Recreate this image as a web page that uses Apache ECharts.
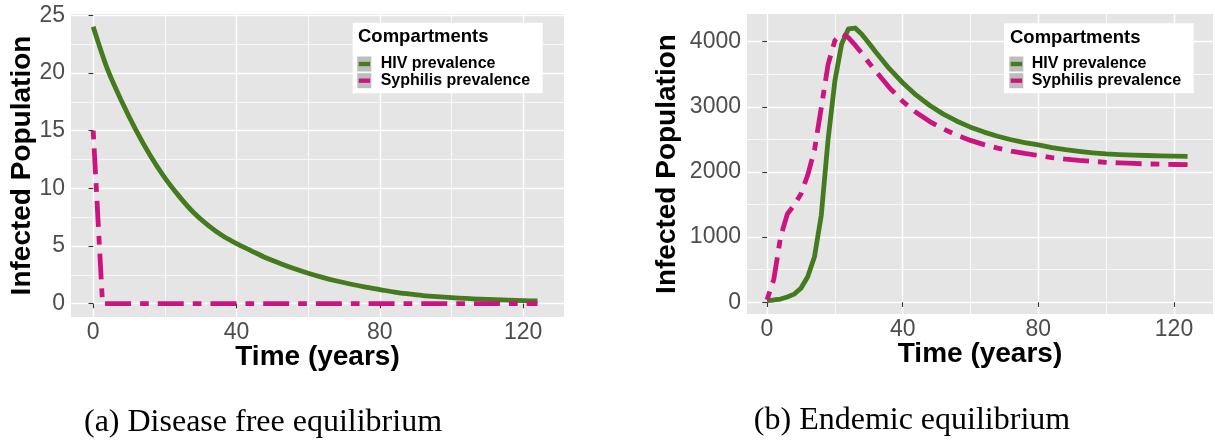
<!DOCTYPE html>
<html>
<head>
<meta charset="utf-8">
<script src="https://cdn.jsdelivr.net/npm/echarts@6.0.0/dist/echarts.min.js"></script>
<style>
html, body { margin: 0; padding: 0; background: #fff; }
#main { width: 1215px; height: 442px; }
</style>
</head>
<body>
<div id="main"></div>
<script>
// (a) disease free equilibrium
var freeYears = [0, 4, 8, 12, 16, 20, 24, 28, 32, 36, 40, 44, 48, 52, 56, 60,
  64, 68, 72, 76, 80, 84, 88, 92, 96, 100, 104, 108, 112, 116, 120, 124];
var hivFree = [24.0, 20.3, 17.5, 15.0, 12.8, 10.9, 9.3, 7.9, 6.8, 5.9, 5.2, 4.6, 4.0, 3.5, 3.04, 2.64,
  2.28, 1.96, 1.68, 1.43, 1.22, 1.00, 0.84, 0.70, 0.60, 0.52, 0.45, 0.39, 0.34, 0.30, 0.26, 0.23];
var syphFreeYears = [0, 2.6, 124];
var syphFree = [15, 0, 0];

// (b) endemic equilibrium
var endemicYears = [0, 2, 4, 6, 8, 10, 12, 14, 16, 18, 20, 22, 24, 26, 28, 30, 32, 36, 40, 44,
  48, 52, 56, 60, 64, 68, 72, 76, 80, 84, 88, 92, 96, 100, 104, 108, 112, 116, 120, 124];
var hivEndemic = [25, 35, 50, 80, 125, 215, 393, 700, 1335, 2496, 3392, 3964, 4195, 4210, 4110, 3980, 3846, 3590, 3370, 3179,
  3020, 2888, 2779, 2688, 2612, 2548, 2495, 2451, 2415, 2375, 2343, 2317, 2295, 2277, 2267, 2259, 2253, 2248, 2244, 2241];
var syphEndemic = [40, 350, 1000, 1355, 1490, 1663, 1953, 2337, 2986, 3647, 4017, 4123, 4062, 3946, 3817, 3680, 3550, 3300, 3083, 2913,
  2774, 2659, 2564, 2485, 2420, 2366, 2321, 2284, 2253, 2222, 2197, 2177, 2162, 2149, 2139, 2131, 2124, 2119, 2115, 2112];

// ticks
var timeTicks = [0, 40, 80, 120];
var timeMinor = [20, 60, 100];
var freeTicks = [0, 5, 10, 15, 20, 25];
var freeMinor = [2.5, 7.5, 12.5, 17.5, 22.5];
var endemicTicks = [0, 1000, 2000, 3000, 4000];
var endemicMinor = [500, 1500, 2500, 3500];

var names = ['HIV prevalence', 'Syphilis prevalence'];
var green = '#447B1E';
var pink = '#CC1480';
var sans = 'Liberation Sans';

function pairs(xs, ys) {
  return xs.map(function (x, i) { return [x, ys[i]]; });
}

function majorAxis(dim, grid, min, max, ticks, name, gap) {
  return {
    type: 'value', gridIndex: grid, min: min, max: max,
    name: name, nameLocation: 'middle', nameGap: gap, nameMoveOverlap: false,
    nameTextStyle: { fontFamily: sans, fontSize: 28, fontWeight: 'bold', color: '#000' },
    axisLine: { show: false },
    axisTick: { show: true, length: 4.7, customValues: ticks, lineStyle: { color: '#333', width: 1.1 } },
    axisLabel: {
      customValues: ticks, margin: dim === 'x' ? 4 : 6,
      fontFamily: sans, fontSize: 23, color: '#4D4D4D',
      formatter: function (v) { return String(v); }
    },
    splitLine: { show: true, lineStyle: { color: '#fff', width: 1.4 } }
  };
}

function minorAxis(grid, min, max, ticks) {
  return {
    type: 'value', gridIndex: grid, min: min, max: max,
    axisLine: { show: false },
    axisTick: { show: false, customValues: ticks },
    axisLabel: { show: false, customValues: ticks },
    splitLine: { show: true, lineStyle: { color: '#fff', width: 0.75 } }
  };
}

function lineSeries(name, xi, yi, data, color, dash, smooth) {
  return {
    name: name, type: 'line', xAxisIndex: xi, yAxisIndex: yi,
    data: data, showSymbol: false, symbol: 'none', z: 3,
    smooth: smooth || false,
    itemStyle: { color: color },
    lineStyle: { color: color, width: 4.8, type: dash || 'solid', cap: 'butt', join: 'round' },
    emphasis: { disabled: true }
  };
}

// grey key boxes (under) + coloured key bars with text (over)
function legendPair(boxLeft, boxTop, keyLeft, keyTop, textPad) {
  var common = {
    orient: 'vertical', selectedMode: false, icon: 'rect', itemGap: 0.7,
    itemStyle: { borderWidth: 0 },
    textStyle: { fontFamily: sans, fontSize: 16, fontWeight: 'bold', lineHeight: 15, padding: [0, 0, 0, textPad] }
  };
  var under = Object.assign({}, common, {
    left: boxLeft, top: boxTop, z: 5,
    padding: [keyTop - boxTop, 10, 4.5, keyLeft - boxLeft],
    backgroundColor: '#fff',
    itemWidth: 14, itemHeight: 15,
    data: names.map(function (n) { return { name: n, itemStyle: { color: '#BDBDBD' } }; }),
    textStyle: Object.assign({}, common.textStyle, { color: 'rgba(0,0,0,0)' })
  });
  var over = Object.assign({}, common, {
    left: keyLeft + 1.4, top: keyTop, z: 6, padding: 0,
    itemWidth: 11.4, itemHeight: 4.3,
    data: names,
    textStyle: Object.assign({}, common.textStyle, { color: '#000', padding: [0, 0, 0, textPad - 1.4] })
  });
  return [under, over];
}

var chart = echarts.init(document.getElementById('main'), null, { renderer: 'canvas' });

var option = {
  backgroundColor: '#fff',
  animation: false,
  title: [
    { text: 'Compartments', left: 358, top: 27, padding: 0, z: 7,
      textStyle: { fontFamily: sans, fontSize: 18.5, fontWeight: 'bold', color: '#000' } },
    { text: 'Compartments', left: 1010, top: 28, padding: 0, z: 7,
      textStyle: { fontFamily: sans, fontSize: 18.5, fontWeight: 'bold', color: '#000' } },
    { text: '(a) Disease free equilibrium', left: 263, top: 406.5, textAlign: 'center', padding: 0,
      textStyle: { fontFamily: 'Liberation Serif', fontSize: 32, fontWeight: 'normal', color: '#000' } },
    { text: '(b) Endemic equilibrium', left: 912, top: 405, textAlign: 'center', padding: 0,
      textStyle: { fontFamily: 'Liberation Serif', fontSize: 32, fontWeight: 'normal', color: '#000' } }
  ],
  legend: legendPair(352.7, 22.7, 357.3, 56, 7).concat(legendPair(1004, 23.3, 1009.3, 56, 6)),
  grid: [
    { left: 71, top: 14, width: 493, height: 303, show: true, backgroundColor: '#E5E5E5', borderWidth: 0, outerBoundsMode: 'none' },
    { left: 747, top: 14, width: 466, height: 300, show: true, backgroundColor: '#E5E5E5', borderWidth: 0, outerBoundsMode: 'none' }
  ],
  xAxis: [
    majorAxis('x', 0, -6.2, 131.4, timeTicks, 'Time (years)', 26),
    minorAxis(0, -6.2, 131.4, timeMinor),
    majorAxis('x', 1, -5.9, 131.5, timeTicks, 'Time (years)', 26),
    minorAxis(1, -5.9, 131.5, timeMinor)
  ],
  yAxis: [
    majorAxis('y', 0, -1.16, 25.11, freeTicks, 'Infected Population', 35),
    minorAxis(0, -1.16, 25.11, freeMinor),
    majorAxis('y', 1, -180, 4425, endemicTicks, 'Infected Population', 66),
    minorAxis(1, -180, 4425, endemicMinor)
  ],
  series: [
    lineSeries(names[0], 0, 0, pairs(freeYears, hivFree), green, null, 0.3),
    lineSeries(names[1], 0, 0, pairs(syphFreeYears, syphFree), pink, [8.7, 9, 26, 9]),
    lineSeries(names[0], 2, 2, pairs(endemicYears, hivEndemic), green),
    lineSeries(names[1], 2, 2, pairs(endemicYears, syphEndemic), pink, [8.7, 9, 26, 9])
  ]
};

chart.setOption(option);
</script>
</body>
</html>
